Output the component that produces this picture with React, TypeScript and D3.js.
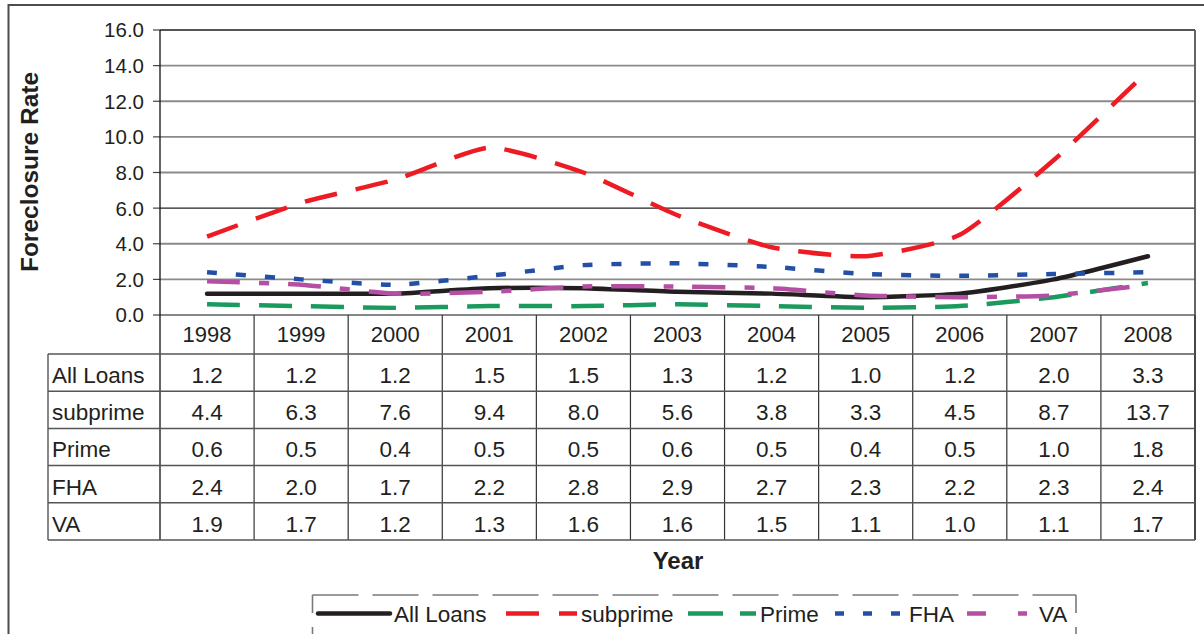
import React from "react";
import * as d3 from "d3";

const years = ["1998", "1999", "2000", "2001", "2002", "2003", "2004", "2005", "2006", "2007", "2008"];
const allLoans = [1.2, 1.2, 1.2, 1.5, 1.5, 1.3, 1.2, 1.0, 1.2, 2.0, 3.3];
const subprime = [4.4, 6.3, 7.6, 9.4, 8.0, 5.6, 3.8, 3.3, 4.5, 8.7, 13.7];
const prime = [0.6, 0.5, 0.4, 0.5, 0.5, 0.6, 0.5, 0.4, 0.5, 1.0, 1.8];
const fha = [2.4, 2.0, 1.7, 2.2, 2.8, 2.9, 2.7, 2.3, 2.2, 2.3, 2.4];
const va = [1.9, 1.7, 1.2, 1.3, 1.6, 1.6, 1.5, 1.1, 1.0, 1.1, 1.7];
const seriesNames = ["All Loans", "subprime", "Prime", "FHA", "VA"];
const seriesValues = [allLoans, subprime, prime, fha, va];
const yTicks = [0, 2, 4, 6, 8, 10, 12, 14, 16];

const STYLES = [
  { color: "#231f20", dash: "", cap: "round", lw: 4.5, legendDash: "" },
  { color: "#ed1c24", dash: "33 19", cap: "butt", lw: 4.5, legendDash: "33 20" },
  { color: "#1b9a5e", dash: "33 19", cap: "butt", lw: 4.5, legendDash: "35 17" },
  { color: "#2350a6", dash: "10 19", cap: "butt", lw: 4.5, legendDash: "9 19" },
  { color: "#b54fa3", dash: "33 19 10 19", cap: "butt", lw: 4.5, legendDash: "19 32 9 32" },
];

const FONT = "'Liberation Sans', Arial, Helvetica, sans-serif";

export default function App() {
  const W = 1204, H = 634;
  const plotL = 160, plotR = 1195, plotT = 30, plotB = 315;
  const x = d3.scaleBand<string>().domain(years).range([plotL, plotR]).padding(0);
  const bw = x.bandwidth();
  const cx = (yr: string) => (x(yr) as number) + bw / 2;
  const y = d3.scaleLinear().domain([0, 16]).range([plotB, plotT]);

  const line = d3
    .line<number>()
    .x((_, i) => cx(years[i]))
    .y((d) => y(d))
    .curve(d3.curveCardinal.tension(0.45));

  const headerB = 354;
  const rowH = 37.2;
  const tableB = headerB + rowH * seriesNames.length;
  const tableLeft = 48;

  const legendY = 613.5;
  const legendX = [318, 506, 688, 835, 967];
  const sampleLen = [72, 71, 68, 70, 68];

  return (
    <svg
      width={W}
      height={H}
      style={{ position: "absolute", left: 0, top: 0, display: "block", background: "#fff" }}
      fontFamily={FONT}
    >
      <rect x={0} y={0} width={W} height={H} fill="#fff" />
      {/* outer chart border */}
      <rect x={8.5} y={5} width={W + 20} height={H + 20} fill="none" stroke="#4d4d4d" strokeWidth={2} />

      {/* gridlines */}
      {yTicks.map((t) => (
        <line
          key={"g" + t}
          x1={plotL}
          x2={plotR}
          y1={y(t)}
          y2={y(t)}
          stroke={t === 6 ? "#222" : t === 0 ? "#111" : "#8a8a8a"}
          strokeWidth={t === 6 || t === 0 ? 1.2 : 1.8}
        />
      ))}
      {/* ticks and tick labels */}
      {yTicks.map((t) => (
        <g key={"t" + t}>
          <line x1={153} x2={plotL} y1={y(t)} y2={y(t)} stroke="#444" strokeWidth={1.2} />
          <text x={144} y={y(t) + 7.4} textAnchor="end" fontSize={20.5} fill="#231f20">
            {t.toFixed(1)}
          </text>
        </g>
      ))}
      {/* plot border top/right */}
      <line x1={plotL} x2={plotR} y1={plotT} y2={plotT} stroke="#555" strokeWidth={1.8} />
      <line x1={plotR} x2={plotR} y1={plotT} y2={tableB} stroke="#555" strokeWidth={1.8} />
      {/* y axis */}
      <line x1={plotL} x2={plotL} y1={plotT} y2={tableB} stroke="#111" strokeWidth={1.3} />

      {/* y axis title */}
      <text
        transform={`translate(38,172) rotate(-90)`}
        textAnchor="middle"
        fontSize={24.5}
        fontWeight="bold"
        fill="#231f20"
      >
        Foreclosure Rate
      </text>

      {/* series lines */}
      {seriesValues.map((vals, i) => (
        <path
          key={"s" + i}
          d={line(vals) || ""}
          fill="none"
          stroke={STYLES[i].color}
          strokeWidth={STYLES[i].lw}
          strokeDasharray={STYLES[i].dash || undefined}
          strokeLinecap={STYLES[i].cap as any}
          strokeLinejoin="round"
        />
      ))}

      {/* data table header */}
      {years.map((yr) => (
        <text key={"yh" + yr} x={cx(yr)} y={342} textAnchor="middle" fontSize={22} fill="#231f20">
          {yr}
        </text>
      ))}
      {years.map((yr) => (
        <line
          key={"v" + yr}
          x1={(x(yr) as number) + bw}
          x2={(x(yr) as number) + bw}
          y1={plotB}
          y2={tableB}
          stroke="#333"
          strokeWidth={1.2}
        />
      ))}
      <line x1={tableLeft} x2={tableLeft} y1={headerB} y2={tableB} stroke="#555" strokeWidth={1.4} />
      {d3.range(seriesNames.length + 1).map((r) => (
        <line
          key={"h" + r}
          x1={tableLeft}
          x2={plotR}
          y1={headerB + r * rowH}
          y2={headerB + r * rowH}
          stroke="#555"
          strokeWidth={1.5}
        />
      ))}
      {seriesNames.map((name, r) => (
        <g key={"row" + name}>
          <text x={52} y={headerB + r * rowH + 29} fontSize={22.5} fill="#231f20">
            {name}
          </text>
          {seriesValues[r].map((v, i) => (
            <text
              key={name + i}
              x={cx(years[i])}
              y={headerB + r * rowH + 29}
              textAnchor="middle"
              fontSize={22.5}
              fill="#231f20"
            >
              {v.toFixed(1)}
            </text>
          ))}
        </g>
      ))}

      {/* x axis title */}
      <text x={678} y={569} textAnchor="middle" fontSize={24} fontWeight="bold" fill="#231f20">
        Year
      </text>

      {/* legend box */}
      <line x1={312.5} x2={1076} y1={595} y2={595} stroke="#7a7a7a" strokeWidth={1.6} strokeDasharray="46 14" />
      <line x1={312.5} x2={312.5} y1={595} y2={H + 5} stroke="#7a7a7a" strokeWidth={1.6} strokeDasharray="46 14" strokeDashoffset={-32} />
      <line x1={1076} x2={1076} y1={595} y2={H + 5} stroke="#7a7a7a" strokeWidth={1.6} strokeDasharray="46 14" strokeDashoffset={-32} />
      {seriesNames.map((name, i) => (
        <g key={"leg" + name}>
          <line
            x1={legendX[i]}
            x2={legendX[i] + sampleLen[i]}
            y1={legendY}
            y2={legendY}
            stroke={STYLES[i].color}
            strokeWidth={STYLES[i].lw}
            strokeDasharray={STYLES[i].legendDash || undefined}
            strokeLinecap={STYLES[i].cap as any}
          />
          <text x={legendX[i] + sampleLen[i] + 4} y={622} fontSize={22.5} fill="#231f20">
            {name}
          </text>
        </g>
      ))}
    </svg>
  );
}
